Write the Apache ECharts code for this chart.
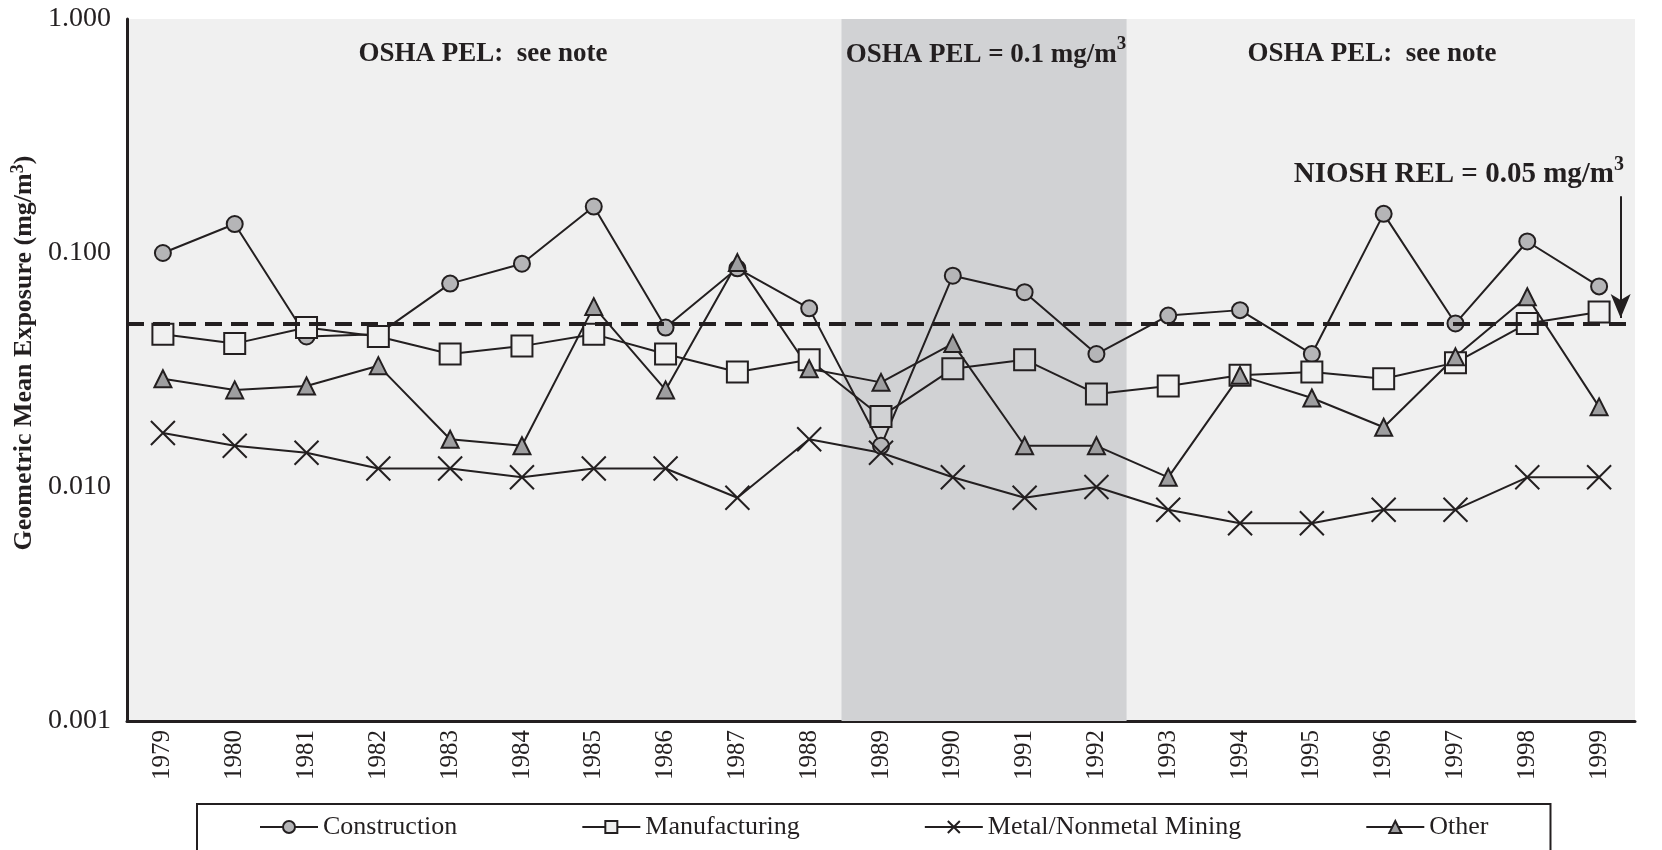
<!DOCTYPE html>
<html>
<head>
<meta charset="utf-8">
<style>
  html, body { margin: 0; padding: 0; background: #fff; }
  #chart { width: 1662px; height: 850px; }
</style>
<script src="https://cdn.jsdelivr.net/npm/echarts@6/dist/echarts.min.js"></script>
</head>
<body>
<div id="chart"></div>
<script>
const years = ['1979', '1980', '1981', '1982', '1983', '1984', '1985', '1986', '1987', '1988', '1989',
  '1990', '1991', '1992', '1993', '1994', '1995', '1996', '1997', '1998', '1999']

// geometric mean exposure, mg/m3
const construction = [0.100, 0.133, 0.044, 0.045, 0.074, 0.090, 0.158, 0.048, 0.086, 0.058, 0.015,
  0.080, 0.068, 0.037, 0.054, 0.057, 0.037, 0.147, 0.050, 0.112, 0.072]
const manufacturing = [0.045, 0.041, 0.048, 0.044, 0.037, 0.040, 0.045, 0.037, 0.031, 0.035, 0.020,
  0.032, 0.035, 0.025, 0.027, 0.030, 0.031, 0.029, 0.034, 0.050, 0.056]
const mining = [0.017, 0.015, 0.014, 0.012, 0.012, 0.011, 0.012, 0.012, 0.009, 0.016, 0.014,
  0.011, 0.009, 0.010, 0.008, 0.007, 0.007, 0.008, 0.008, 0.011, 0.011]
const other = [0.029, 0.026, 0.027, 0.033, 0.016, 0.015, 0.059, 0.026, 0.091, 0.032, 0.028,
  0.041, 0.015, 0.015, 0.011, 0.030, 0.024, 0.018, 0.036, 0.065, 0.022]

const yTicks = [0.001, 0.01, 0.1, 1]
const pel01Years = [1989, 1992]   // period with OSHA PEL = 0.1
const nioshRel = 0.05
const relLineX = [1978.5, 1999.5]
const arrowFrom = [1999.3, 0.175]
const arrowTo = [1999.3, 0.0527]

const serif = '"Liberation Serif", "Times New Roman", serif'
const ink = '#231f20'
const plotBg = '#f0f0f0'
const shadeBg = '#d1d2d4'

const inShade = (i) => Number(years[i]) >= pel01Years[0] && Number(years[i]) <= pel01Years[1]

const supRich = (size) => ({
  t: { fontFamily: serif, fontWeight: 'bold', fontSize: size, color: ink, lineHeight: 34, verticalAlign: 'bottom' },
  s: { fontFamily: serif, fontWeight: 'bold', fontSize: Math.round(size * 0.7), color: ink, lineHeight: 34, verticalAlign: 'top' },
})

const chart = echarts.init(document.getElementById('chart'))

const lineBase = {
  type: 'line',
  xAxisIndex: 0,
  z: 3,
  lineStyle: { color: ink, width: 2 },
  emphasis: { disabled: true },
  animation: false,
}

chart.setOption({
  backgroundColor: '#fff',
  animation: false,
  grid: {
    left: 127,
    right: 27,
    top: 19,
    bottom: 129,
    show: true,
    backgroundColor: plotBg,
    borderWidth: 0,
  },
  xAxis: [
    {
      type: 'category',
      data: years,
      boundaryGap: true,
      axisLine: { lineStyle: { color: ink, width: 3 } },
      axisTick: { show: false },
      axisLabel: {
        rotate: 90,
        color: ink,
        fontFamily: serif,
        fontSize: 25,
        margin: 9,
      },
    },
    {
      type: 'value',
      min: 1978.5,
      max: 1999.5,
      show: false,
    },
  ],
  yAxis: {
    type: 'log',
    logBase: 10,
    min: yTicks[0],
    max: yTicks[yTicks.length - 1],
    axisLine: { show: true, lineStyle: { color: ink, width: 3 } },
    axisTick: { show: false },
    splitLine: { show: false },
    axisLabel: {
      color: ink,
      fontFamily: serif,
      fontSize: 28,
      margin: 16,
      formatter: (v) => Number(v).toFixed(3),
    },
    name: '{t|Geometric Mean Exposure (mg/m}{s|3}{t|)}',
    nameLocation: 'middle',
    nameRotate: 90,
    nameGap: 78,
    nameTextStyle: {
      padding: [0, 0, 0, 34],
      rich: {
        t: { fontFamily: serif, fontWeight: 'bold', fontSize: 26, color: ink, lineHeight: 28, verticalAlign: 'bottom' },
        s: { fontFamily: serif, fontWeight: 'bold', fontSize: 18, color: ink, verticalAlign: 'top', lineHeight: 28 },
      },
    },
  },
  title: [
    {
      text: 'OSHA PEL:  see note',
      left: 478, top: 36, textAlign: 'center',
      textStyle: { fontFamily: serif, fontWeight: 'bold', fontSize: 27, color: ink },
    },
    {
      text: '{t|OSHA PEL = 0.1 mg/m}{s|3}',
      left: 981, top: 30, textAlign: 'center',
      textStyle: { rich: supRich(27) },
    },
    {
      text: 'OSHA PEL:  see note',
      left: 1367, top: 36, textAlign: 'center',
      textStyle: { fontFamily: serif, fontWeight: 'bold', fontSize: 27, color: ink },
    },
    {
      text: '{t|NIOSH REL = 0.05 mg/m}{s|3}',
      right: 33, top: 150,
      textStyle: { rich: supRich(29) },
    },
  ],
  legend: {
    left: 197,
    top: 804,
    padding: [10, 62, 14, 62],
    itemGap: 124,
    itemWidth: 58,
    itemHeight: 15,
    borderColor: ink,
    borderWidth: 2,
    borderRadius: 0,
    textStyle: { fontFamily: serif, fontSize: 26, color: ink },
    data: ['Construction', 'Manufacturing', 'Metal/Nonmetal Mining', 'Other'],
  },
  series: [
    {
      type: 'line',
      xAxisIndex: 1,
      data: [],
      z: 1,
      silent: true,
      markArea: {
        silent: true,
        itemStyle: { color: shadeBg },
        data: [[{ xAxis: pel01Years[0] - 0.55 }, { xAxis: pel01Years[1] + 0.42 }]],
      },
      markLine: {
        silent: true,
        animation: false,
        label: { show: false },
        data: [
          [
            { coord: arrowFrom, symbol: 'none' },
            { coord: arrowTo, symbol: 'arrow', symbolSize: [15, 24] },
          ],
        ],
        lineStyle: { color: ink, width: 2, type: 'solid' },
      },
    },
    {
      type: 'line',
      xAxisIndex: 1,
      data: [],
      z: 2,
      silent: true,
      markLine: {
        silent: true,
        animation: false,
        symbol: 'none',
        label: { show: false },
        lineStyle: { color: ink, width: 4, type: [17, 9] },
        data: [[{ coord: [relLineX[0], nioshRel] }, { coord: [relLineX[1], nioshRel] }]],
      },
    },
    {
      ...lineBase,
      name: 'Construction',
      data: construction,
      symbol: 'circle',
      symbolSize: 16,
      itemStyle: { color: '#b5b5b7', borderColor: ink, borderWidth: 2 },
    },
    {
      ...lineBase,
      name: 'Manufacturing',
      data: manufacturing.map((v, i) => ({
        value: v,
        itemStyle: { color: inShade(i) ? shadeBg : plotBg },
      })),
      symbol: 'rect',
      symbolSize: 21,
      itemStyle: { color: plotBg, borderColor: ink, borderWidth: 2 },
    },
    {
      ...lineBase,
      name: 'Metal/Nonmetal Mining',
      data: mining,
      symbol: 'path://M0,0L10,10M10,0L0,10',
      symbolSize: 24,
      itemStyle: { color: 'rgba(0,0,0,0)', borderColor: ink, borderWidth: 2 },
    },
    {
      ...lineBase,
      name: 'Other',
      data: other,
      symbol: 'triangle',
      symbolSize: 17,
      itemStyle: { color: '#9e9ea0', borderColor: ink, borderWidth: 2 },
    },
  ],
})
</script>
</body>
</html>
